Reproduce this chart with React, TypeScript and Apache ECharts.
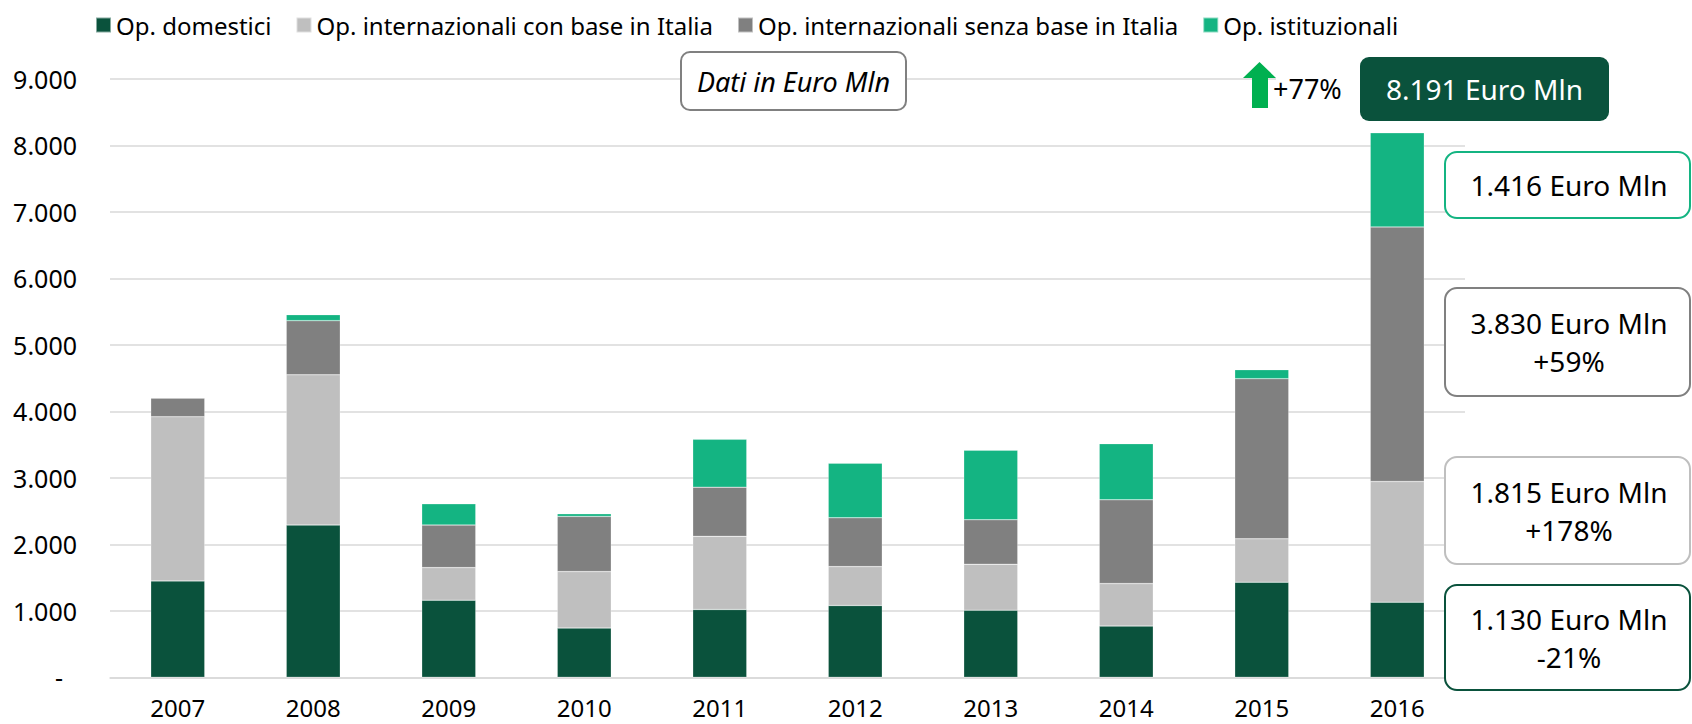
import React, { useEffect, useRef } from "react";
import * as echarts from "echarts";

const years = ["2007", "2008", "2009", "2010", "2011", "2012", "2013", "2014", "2015", "2016"];
const domestici = [1450, 2290, 1160, 740, 1020, 1080, 1010, 770, 1430, 1130];
const intConBase = [2470, 2260, 490, 850, 1100, 585, 690, 640, 653, 1815];
const intSenzaBase = [280, 815, 640, 830, 740, 735, 670, 1260, 2409, 3830];
const istituzionali = [0, 90, 320, 40, 720, 820, 1045, 845, 136, 1416];

const seriesNames = [
  "Op. domestici",
  "Op. internazionali con base in Italia",
  "Op. internazionali senza base in Italia",
  "Op. istituzionali",
];
const colors = ["#0A523C", "#BFBFBF", "#808080", "#14B482"];

const yTicks = { min: 0, max: 9000, interval: 1000 };
const noteText = "Dati in Euro Mln";
const totalText = "8.191 Euro Mln";
const growthText = "+77%";
const sideBoxes = [
  { text: "1.416 Euro Mln", color: "#14B482" },
  { text: "3.830 Euro Mln\n+59%", color: "#808080" },
  { text: "1.815 Euro Mln\n+178%", color: "#BFBFBF" },
  { text: "1.130 Euro Mln\n-21%", color: "#0A523C" },
];

const FONT = "'Noto Sans', 'Open Sans', sans-serif";

function fmt(v: number): string {
  if (v === 0) return "{d|-}";
  return String(v).replace(/\B(?=(\d{3})+(?!\d))/g, ".");
}

export default function App() {
  const ref = useRef<HTMLDivElement>(null);
  useEffect(() => {
    document.body.style.margin = "0";
    if (!ref.current) return;
    const chart = echarts.init(ref.current, null, { renderer: "svg" });
    const data = [domestici, intConBase, intSenzaBase, istituzionali];

    const boxY = [
      { y: 152, h: 66 },
      { y: 288, h: 108 },
      { y: 457, h: 107 },
      { y: 585, h: 105 },
    ];

    const graphics: any[] = [];
    graphics.push({
      type: "rect",
      z: 100,
      shape: { x: 681, y: 52, width: 225, height: 58, r: 9 },
      style: { fill: "#fff", stroke: "#808080", lineWidth: 2 },
    });
    graphics.push({
      type: "text",
      z: 101,
      x: 793.5,
      y: 81,
      style: {
        text: noteText,
        fontFamily: FONT,
        fontStyle: "italic",
        fontSize: 27,
        fill: "#000",
        align: "center",
        verticalAlign: "middle",
      },
    });
    graphics.push({
      type: "rect",
      z: 100,
      shape: { x: 1276, y: 70, width: 84, height: 20 },
      style: { fill: "#fff" },
    });
    graphics.push({
      type: "polygon",
      z: 101,
      shape: {
        points: [
          [1243, 78],
          [1259.5, 62],
          [1276, 78],
          [1268, 78],
          [1268, 108],
          [1252, 108],
          [1252, 78],
        ],
      },
      style: { fill: "#00B050" },
    });
    graphics.push({
      type: "text",
      z: 101,
      x: 1273,
      y: 88,
      style: {
        text: growthText,
        fontFamily: FONT,
        fontSize: 27,
        fill: "#000",
        align: "left",
        verticalAlign: "middle",
      },
    });
    graphics.push({
      type: "rect",
      z: 100,
      shape: { x: 1360, y: 57, width: 249, height: 64, r: 9 },
      style: { fill: "#0A523C" },
    });
    graphics.push({
      type: "text",
      z: 101,
      x: 1484.5,
      y: 89,
      style: {
        text: totalText,
        fontFamily: FONT,
        fontSize: 28,
        fill: "#fff",
        align: "center",
        verticalAlign: "middle",
      },
    });
    sideBoxes.forEach((b, i) => {
      graphics.push({
        type: "rect",
        z: 100,
        shape: { x: 1445, y: boxY[i].y, width: 245, height: boxY[i].h, r: 12 },
        style: { fill: "#fff", stroke: b.color, lineWidth: 2 },
      });
      graphics.push({
        type: "text",
        z: 101,
        x: 1569,
        y: boxY[i].y + boxY[i].h / 2,
        style: {
          text: b.text,
          fontFamily: FONT,
          fontSize: 28,
          lineHeight: 38,
          fill: "#000",
          align: "center",
          verticalAlign: "middle",
        },
      });
    });

    chart.setOption({
      animation: false,
      textStyle: { fontFamily: FONT },
      color: colors,
      legend: {
        left: 90,
        top: 8,
        itemWidth: 15,
        itemHeight: 15,
        itemGap: 24,
        icon: "rect",
        textStyle: { fontSize: 24, color: "#000", fontFamily: FONT },
        data: seriesNames,
      },
      grid: { left: 110, right: 227, top: 79, bottom: 46.7, containLabel: false },
      xAxis: {
        type: "category",
        data: years,
        axisLine: { show: true, lineStyle: { color: "#D9D9D9", width: 1.5 } },
        axisTick: { show: false },
        axisLabel: { fontSize: 24, lineHeight: 24, color: "#000", margin: 18, fontFamily: FONT },
      },
      yAxis: {
        type: "value",
        min: yTicks.min,
        max: yTicks.max,
        interval: yTicks.interval,
        axisLine: { show: false },
        axisTick: { show: false },
        splitLine: { lineStyle: { color: "#D9D9D9", width: 1.5 } },
        axisLabel: {
          fontSize: 25,
          color: "#000",
          margin: 33,
          fontFamily: FONT,
          formatter: (v: number) => fmt(v),
          rich: { d: { fontSize: 25, padding: [0, 14, 0, 0], fontFamily: FONT } },
        },
      },
      series: seriesNames.map((name, i) => ({
        name,
        type: "bar",
        stack: "total",
        barWidth: 54,
        data: data[i],
        itemStyle: { color: colors[i], borderColor: "rgba(255,255,255,0.5)", borderWidth: 0.5 },
      })),
      graphic: graphics,
    });
    return () => chart.dispose();
  }, []);
  return <div ref={ref} style={{ width: 1692, height: 724 }} />;
}
